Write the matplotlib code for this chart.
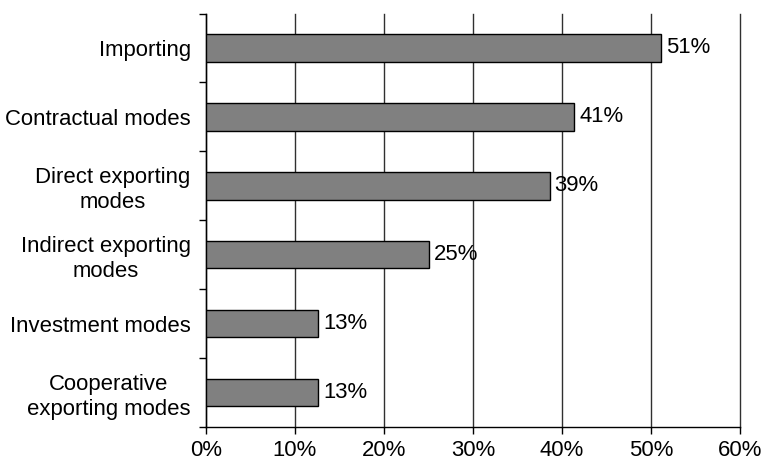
import numpy as np
import matplotlib.pyplot as plt
from matplotlib.ticker import FixedLocator, FuncFormatter

# Share of firms using each entry mode (%)
MODES = ['Importing', 'Contractual modes', 'Direct exporting\nmodes',
         'Indirect exporting\nmodes', 'Investment modes',
         'Cooperative\nexporting modes']
SHARES = [51.1, 41.4, 38.6, 25.1, 12.6, 12.6]
X_TICKS = [0, 10, 20, 30, 40, 50, 60]

W, H = 765, 467
DPI = 100
FONT_SIZE = 15.9

plt.rcParams.update({
    'font.family': ['Liberation Sans', 'DejaVu Sans'],
    'font.size': FONT_SIZE,
})


def make_plot():
    fig = plt.figure(figsize=(W / DPI, H / DPI), dpi=DPI)
    ax = fig.add_axes([206 / W, 1 - 427 / H, (740 - 206) / W, (427 - 13.5) / H])

    y = np.arange(len(MODES))
    ax.set_axisbelow(True)
    ax.barh(y, SHARES, height=0.4, color='#808080', edgecolor='black',
            linewidth=1.0, zorder=3)

    for yi, v in zip(y, SHARES):
        ax.annotate(f'{v:.0f}%', xy=(v, yi), xytext=(3.5, 0),
                    textcoords='offset points', va='center', ha='left',
                    fontsize=FONT_SIZE, zorder=4)

    ax.set_xlim(0, 60)
    ax.set_ylim(len(MODES) - 0.5, -0.5)

    ax.set_xticks(X_TICKS)
    ax.xaxis.set_major_formatter(FuncFormatter(lambda v, _: f'{v:.0f}%'))
    ax.tick_params(axis='x', direction='out', length=5, width=1, pad=4)

    ax.set_yticks(y)
    ax.set_yticklabels(MODES, ha='right', multialignment='center',
                       linespacing=1.25)
    ax.yaxis.set_minor_locator(FixedLocator(np.arange(len(MODES) + 1) - 0.5))
    ax.tick_params(axis='y', which='major', length=0, pad=11)
    ax.tick_params(axis='y', which='minor', direction='out', length=5, width=1)

    ax.grid(axis='x', color='#303030', linewidth=1.0)
    for line in ax.get_xgridlines():
        line.set_clip_on(False)
    for side in ('top', 'right'):
        ax.spines[side].set_visible(False)
    for side in ('left', 'bottom'):
        ax.spines[side].set_linewidth(1.0)

    fig.savefig('out.png', dpi=DPI)
    plt.close(fig)


if __name__ == '__main__':
    make_plot()
